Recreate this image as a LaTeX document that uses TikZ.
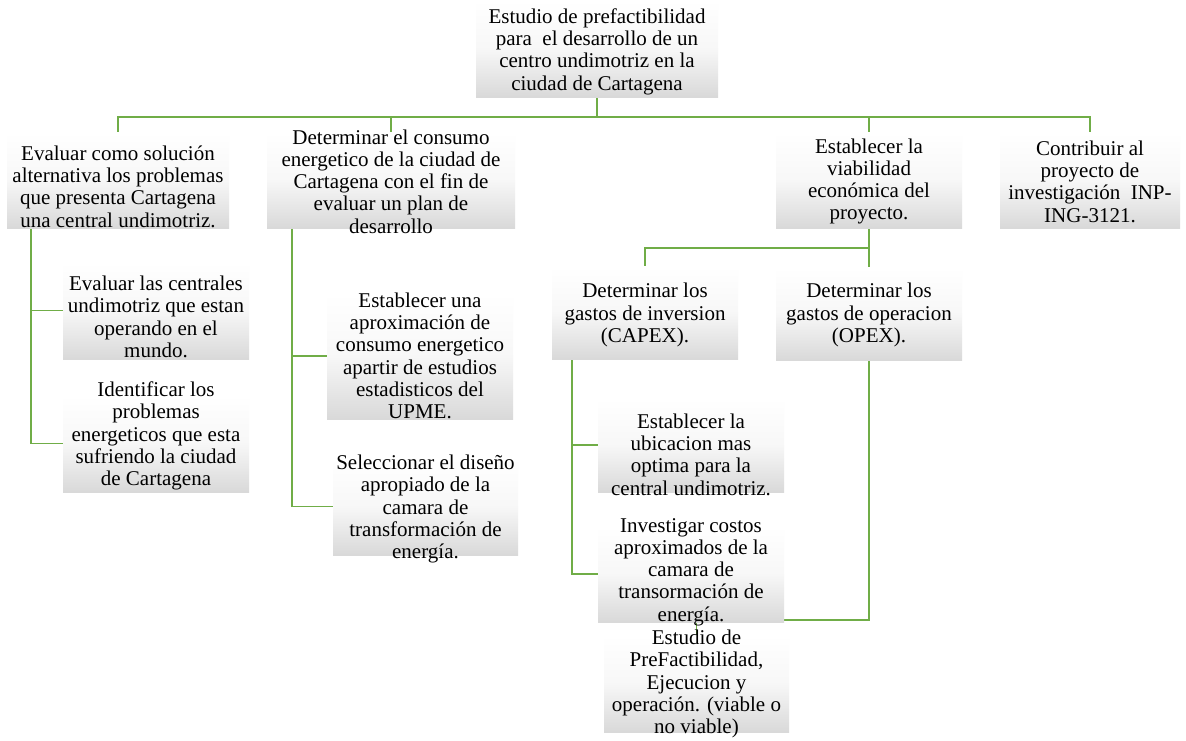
\documentclass[tikz,border=0pt]{standalone}
\usepackage{fontspec}
\setmainfont{Liberation Serif}
\usetikzlibrary{backgrounds}
\definecolor{conngreen}{RGB}{112,173,71}
\begin{document}
\begin{tikzpicture}[x=1pt,y=-1pt,
  conn/.style={draw=conngreen,line width=1.4pt},
  boxnode/.style={inner sep=0pt,outer sep=0pt,top color=white,bottom color=black!15,middle color=black!3},
  txt/.style={align=center,inner sep=0pt,font=\fontsize{21}{22.3}\selectfont}]
\useasboundingbox (0,0) rectangle (1186,740);
% boxes
\node[boxnode,minimum width=242pt,minimum height=97pt] (R) at (597,48.5) {};
\node[boxnode,minimum width=222pt,minimum height=96pt] (A) at (118,180) {};
\node[boxnode,minimum width=186pt,minimum height=97pt] (A1) at (156,310.5) {};
\node[boxnode,minimum width=186pt,minimum height=97pt] (A2) at (156,443.5) {};
\node[boxnode,minimum width=248pt,minimum height=96pt] (B) at (391,180) {};
\node[boxnode,minimum width=186pt,minimum height=126pt] (B1) at (420,356) {};
\node[boxnode,minimum width=185pt,minimum height=97pt] (B2) at (425.5,506.5) {};
\node[boxnode,minimum width=186pt,minimum height=96pt] (C) at (869,180) {};
\node[boxnode,minimum width=180pt,minimum height=96pt] (D) at (1090,180) {};
\node[boxnode,minimum width=186pt,minimum height=93pt] (C1) at (645,312.5) {};
\node[boxnode,minimum width=186pt,minimum height=93pt] (C2) at (869,313.5) {};
\node[boxnode,minimum width=186pt,minimum height=94pt] (C1a) at (691,445) {};
\node[boxnode,minimum width=186pt,minimum height=96pt] (C1b) at (691,574) {};
\node[boxnode,minimum width=185pt,minimum height=97pt] (E) at (696.5,683.5) {};
% texts
\node[txt] (tR) at (597,51.5) {Estudio de prefactibilidad\\ para\ \ el desarrollo de un\\ centro undimotriz en la\\ ciudad de Cartagena};
\node[txt] (tA) at (118,186.5) {Evaluar como solución\\ alternativa los problemas\\ que presenta Cartagena\\ una central undimotriz.};
\node[txt] (tA1) at (156,317) {Evaluar las centrales\\ undimotriz que estan\\ operando en el\\ mundo.};
\node[txt] (tA2) at (156,436) {Identificar los\\ problemas\\ energeticos que esta\\ sufriendo la ciudad\\ de Cartagena};
\node[txt] (tB) at (391,181.5) {Determinar el consumo\\ energetico de la ciudad de\\ Cartagena con el fin de\\ evaluar un plan de\\ desarrollo};
\node[txt] (tB1) at (420,356) {Establecer una\\ aproximación de\\ consumo energetico\\ apartir de estudios\\ estadisticos del\\ UPME.};
\node[txt] (tB2) at (425.5,509) {Seleccionar el diseño\\ apropiado de la\\ camara de\\ transformación de\\ energía.};
\node[txt] (tC) at (869,181.5) {Establecer la\\ viabilidad\\ económica del\\ proyecto.};
\node[txt] (tD) at (1090,181.5) {Contribuir al\\ proyecto de\\ investigación\ \ INP-\\ ING-3121.};
\node[txt] (tC1) at (645,315) {Determinar los\\ gastos de inversion\\ (CAPEX).};
\node[txt] (tC2) at (869,315) {Determinar los\\ gastos de operacion\\ (OPEX).};
\node[txt] (tC1a) at (691,454.5) {Establecer la\\ ubicacion mas\\ optima para la\\ central undimotriz.};
\node[txt] (tC1b) at (691,572) {Investigar costos\\ aproximados de la\\ camara de\\ transormación de\\ energía.};
\node[txt] (tE) at (696.5,684) {Estudio de\\ PreFactibilidad,\\ Ejecucion y\\ operación. (viable o\\ no viable)};
% connectors
\begin{scope}[on background layer]
\fill[white] (0,0) rectangle (1186,740);
\coordinate (bus) at (597,117);
\draw[conn] (R.south) -- (bus);
\draw[conn] (bus) -| (A.north);
\draw[conn] (bus) -| (B.north);
\draw[conn] (bus) -| (C.north);
\draw[conn] (bus) -| (D.north);
\coordinate (Aspine) at (31,228);
\draw[conn] (Aspine) |- (A1.west);
\draw[conn] (Aspine) |- (A2.west);
\coordinate (Bspine) at (292,228);
\draw[conn] (Bspine) |- (B1.west);
\draw[conn] (Bspine) |- (B2.west);
\coordinate (Cjoin) at (869,248);
\draw[conn] (C.south) -- (C2.north);
\draw[conn] (Cjoin) -| (C1.north);
\coordinate (C1spine) at (572,359);
\draw[conn] (C1spine) |- (C1a.west);
\draw[conn] (C1spine) |- (C1b.west);
\coordinate (Ebend) at (869,620);
\draw[conn] (C2.south) -- (Ebend) -| (E.north);
\end{scope}
\end{tikzpicture}
\end{document}
